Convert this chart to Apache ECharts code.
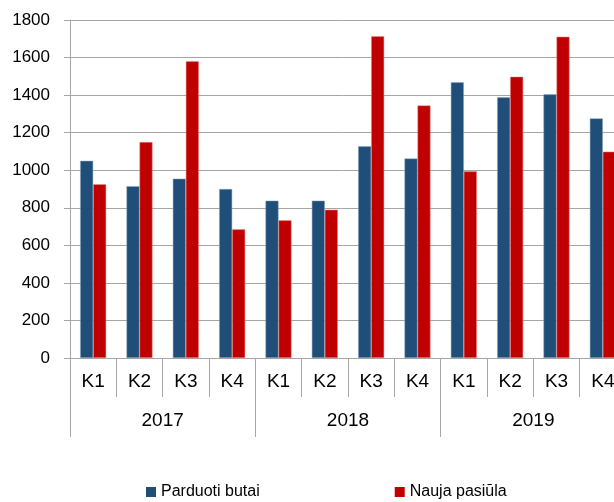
<!DOCTYPE html>
<html>
<head>
<meta charset="utf-8">
<title>Parduoti butai ir nauja pasiūla</title>
<script src="https://cdn.jsdelivr.net/npm/echarts@6/dist/echarts.min.js"></script>
<style>
    html, body { margin: 0; padding: 0; background: #fff; }
    #chartmain { width: 614px; height: 502px; }
</style>
</head>
<body>
<div id="chartmain"></div>
<script>
var quarterList = ['K1', 'K2', 'K3', 'K4', 'K1', 'K2', 'K3', 'K4', 'K1', 'K2', 'K3', 'K4']; //ketvirčiai (X ašis)
var yearList = ['2017', '2018', '2019']; //metai (antra X ašies eilutė)
var soldList = [1050, 915, 955, 900, 838, 838, 1127, 1062, 1468, 1388, 1404, 1276]; //Parduoti butai
var offerList = [925, 1150, 1580, 685, 733, 790, 1713, 1345, 994, 1498, 1711, 1099]; //Nauja pasiūla
var yTicks = [0, 200, 400, 600, 800, 1000, 1200, 1400, 1600, 1800];

var FONT = "'Liberation Sans', Arial, sans-serif";
var GRAY = '#A6A6A6';

var chart = echarts.init(document.getElementById('chartmain'));
chart.setOption({
    animation: false,
    textStyle: { fontFamily: FONT },
    grid: {
        left: 70,
        top: 20,
        width: 556, // paskutinis stulpelis nukirstas dešinėje
        height: 338,
        outerBoundsMode: 'none'
    },
    legend: {
        data: ['Parduoti butai', 'Nauja pasiūla'],
        left: 146,
        top: 484,
        padding: 0,
        icon: 'rect',
        itemWidth: 10,
        itemHeight: 10,
        itemGap: 135,
        itemStyle: { borderWidth: 0 },
        textStyle: { fontFamily: FONT, fontSize: 16, color: '#000' }
    },
    xAxis: [
        {
            type: 'category',
            data: quarterList,
            position: 'bottom',
            axisLine: { show: true, lineStyle: { color: GRAY, width: 1 } },
            axisTick: { show: true, interval: 0, length: 39, lineStyle: { color: GRAY } },
            axisLabel: { interval: 0, margin: 14, color: '#000', fontFamily: FONT, fontSize: 19 }
        },
        {
            type: 'category',
            data: yearList,
            position: 'bottom',
            axisLine: { show: false },
            axisTick: { show: true, interval: 0, length: 79, lineStyle: { color: GRAY } },
            axisLabel: { interval: 0, margin: 53, color: '#000', fontFamily: FONT, fontSize: 19 }
        }
    ],
    yAxis: {
        type: 'value',
        min: yTicks[0],
        max: yTicks[yTicks.length - 1],
        interval: 200,
        axisLine: { show: true, lineStyle: { color: GRAY, width: 1 } },
        axisTick: { show: true, length: 6, lineStyle: { color: GRAY } },
        axisLabel: {
            margin: 20,
            color: '#000',
            fontFamily: FONT,
            fontSize: 17,
            formatter: function (v) { return String(v); } // be tūkstančių skyriklio
        },
        splitLine: { show: true, lineStyle: { color: GRAY, width: 1 } }
    },
    series: [
        {
            name: 'Parduoti butai',
            type: 'bar',
            xAxisIndex: 0,
            barWidth: 13,
            barGap: 0,
            itemStyle: { color: '#1F4E79', borderColor: '#8EA9C4', borderWidth: 0.5 },
            data: soldList
        },
        {
            name: 'Nauja pasiūla',
            type: 'bar',
            xAxisIndex: 0,
            barWidth: 13,
            barGap: 0,
            itemStyle: { color: '#C00000', borderColor: '#E89090', borderWidth: 0.5 },
            data: offerList
        }
    ]
});
</script>
</body>
</html>
